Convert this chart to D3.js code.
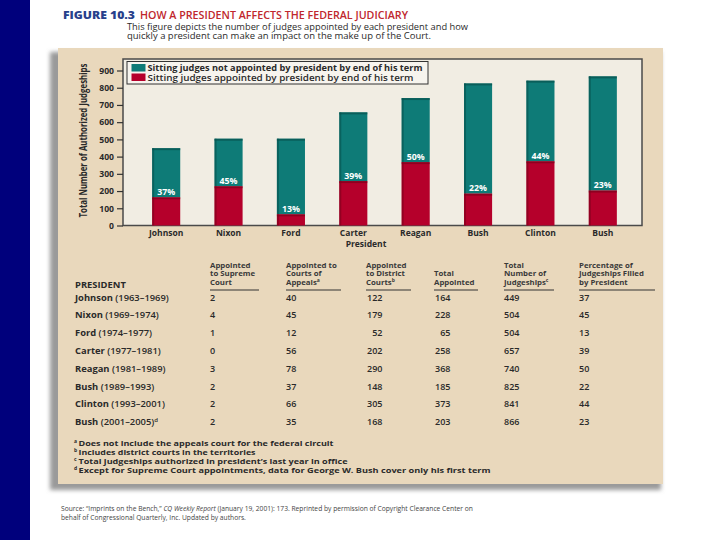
<!DOCTYPE html>
<html>
<head>
<meta charset="utf-8">
<script src="https://cdn.jsdelivr.net/npm/d3@7"></script>
<style>
  body { margin: 0; background: #fff; }
  svg { display: block; font-family: 'Open Sans', 'DejaVu Sans', sans-serif; }
</style>
</head>
<body>
<div id="chart"></div>
<script>
// The Dataset
var presidents = ['Johnson', 'Nixon', 'Ford', 'Carter', 'Reagan', 'Bush', 'Clinton', 'Bush'];
var terms = ['1963–1969', '1969–1974', '1974–1977', '1977–1981', '1981–1989', '1989–1993', '1993–2001', '2001–2005'];
var supremeCourt = [2, 4, 1, 0, 3, 2, 2, 2];
var appealsCourts = [40, 45, 12, 56, 78, 37, 66, 35];
var districtCourts = [122, 179, 52, 202, 290, 148, 305, 168];
var totalAppointed = [164, 228, 65, 258, 368, 185, 373, 203];
var judgeships = [449, 504, 504, 657, 740, 825, 841, 866];
var percentFilled = [37, 45, 13, 39, 50, 22, 44, 23];
var yTicks = [0, 100, 200, 300, 400, 500, 600, 700, 800, 900];

var seriesNames = [
  'Sitting judges not appointed by president by end of his term',
  'Sitting judges appointed by president by end of his term'
];
var columnHeads = [
  ['Appointed', 'to Supreme', 'Court'],
  ['Appointed to', 'Courts of', 'Appeals|a'],
  ['Appointed', 'to District', 'Courts|b'],
  ['', 'Total', 'Appointed'],
  ['Total', 'Number of', 'Judgeships|c'],
  ['Percentage of', 'Judgeships Filled', 'by President']
];
var footnotes = [
  ['a', 'Does not include the appeals court for the federal circuit'],
  ['b', 'Includes district courts in the territories'],
  ['c', 'Total judgeships authorized in president\u2019s last year in office'],
  ['d', 'Except for Supreme Court appointments, data for George W. Bush cover only his first term']
];

// Closure to create a private scope for the charting function.
var judiciaryChart = function () {

  var width = 720,
    height = 540,
    teal = '#0e7b77',
    tealDark = '#07524f',
    red = '#b5002b',
    redDark = '#7d001d',
    ink = '#2a2a2a';

  function chart(selection) {
    selection.each(function () {
      var svg = d3.select(this).append('svg')
        .attr('width', width)
        .attr('height', height);

      var defs = svg.append('defs');
      defs.append('filter').attr('id', 'blur')
        .attr('x', '-5%').attr('y', '-5%').attr('width', '110%').attr('height', '110%')
        .append('feGaussianBlur').attr('stdDeviation', 2.2);

      // Navy strip down the left side of the slide.
      svg.append('rect').attr('width', 30).attr('height', height).attr('fill', '#00007c');

      // Figure heading.
      svg.append('text').attr('x', 63).attr('y', 19)
        .attr('font-size', 10).attr('font-weight', 800).attr('fill', '#27408b')
        .attr('textLength', 72).attr('lengthAdjust', 'spacingAndGlyphs')
        .text('FIGURE 10.3');
      svg.append('text').attr('x', 140).attr('y', 19)
        .attr('font-size', 10).attr('font-weight', 600).attr('fill', '#c0272d')
        .attr('textLength', 268).attr('lengthAdjust', 'spacingAndGlyphs')
        .text('HOW A PRESIDENT AFFECTS THE FEDERAL JUDICIARY');

      // Subtitle, two lines in one block.
      var sub = svg.append('text').attr('font-size', 8.3).attr('fill', ink);
      sub.append('tspan').attr('x', 127).attr('y', 29.5)
        .attr('textLength', 341).attr('lengthAdjust', 'spacingAndGlyphs')
        .text('This figure depicts the number of judges appointed by each president and how');
      sub.append('tspan').attr('x', 127).attr('y', 39)
        .attr('textLength', 304).attr('lengthAdjust', 'spacingAndGlyphs')
        .text('quickly a president can make an impact on the make up of the Court.');

      // Beige panel with a soft shadow to the left and below.
      svg.append('rect').attr('x', 50).attr('y', 52).attr('width', 611).attr('height', 438)
        .attr('fill', '#9a9a9a').attr('filter', 'url(#blur)');
      svg.append('rect').attr('x', 58).attr('y', 48).attr('width', 605).attr('height', 436)
        .attr('fill', '#e9d8bc');

      // Scales.
      var x = d3.scaleBand().domain(d3.range(presidents.length))
        .range([135, 634]).paddingInner(0.55).paddingOuter(0.275);
      var y = d3.scaleLinear().domain([0, 900]).range([225.5, 70.5]);

      // Plot frame.
      svg.append('rect').attr('x', 123).attr('y', 59).attr('width', 519).attr('height', 166.5)
        .attr('fill', '#f1ede3').attr('stroke', '#4a4a4a').attr('stroke-width', 1.5);

      // Y axis.
      var yAxis = svg.append('g').attr('transform', 'translate(123,0)')
        .call(d3.axisLeft(y).tickValues(yTicks).tickSize(6).tickPadding(3));
      yAxis.select('.domain').remove();
      yAxis.selectAll('line').attr('stroke', '#333').attr('stroke-width', 1.2);
      yAxis.selectAll('text').attr('font-size', 8.6).attr('font-weight', 700)
        .attr('font-family', 'Open Sans, sans-serif').attr('fill', ink);

      svg.append('text')
        .attr('transform', 'translate(87,140.5) rotate(-90)')
        .attr('text-anchor', 'middle')
        .attr('font-size', 10).attr('font-weight', 700).attr('fill', ink)
        .attr('textLength', 154).attr('lengthAdjust', 'spacingAndGlyphs')
        .text('Total Number of Authorized Judgeships');

      // X axis.
      var xAxis = svg.append('g').attr('transform', 'translate(0,225.5)')
        .call(d3.axisBottom(x).tickSize(0).tickPadding(4).tickFormat(function (i) { return presidents[i]; }));
      xAxis.select('.domain').remove();
      xAxis.selectAll('text').attr('font-size', 8.5).attr('font-weight', 700)
        .attr('font-family', 'Open Sans, sans-serif').attr('fill', ink);

      svg.append('text').attr('x', 366).attr('y', 247)
        .attr('text-anchor', 'middle').attr('font-size', 8.5).attr('font-weight', 700).attr('fill', ink)
        .text('President');

      // Stacked bars: appointed judges at the bottom, the rest of the seats on top.
      var bars = svg.append('g').selectAll('g.bar')
        .data(d3.range(presidents.length))
        .enter()
        .append('g')
        .attr('class', 'bar');

      bars.append('rect')
        .attr('x', function (i) { return x(i); })
        .attr('y', function (i) { return y(judgeships[i]); })
        .attr('width', x.bandwidth())
        .attr('height', function (i) { return y(totalAppointed[i]) - y(judgeships[i]); })
        .attr('fill', teal);
      bars.append('rect')
        .attr('x', function (i) { return x(i); })
        .attr('y', function (i) { return y(totalAppointed[i]); })
        .attr('width', x.bandwidth())
        .attr('height', function (i) { return y(0) - y(totalAppointed[i]); })
        .attr('fill', red);

      // Darker edges give the bars their slight depth.
      bars.append('rect')
        .attr('x', function (i) { return x(i); })
        .attr('y', function (i) { return y(judgeships[i]); })
        .attr('width', 2)
        .attr('height', function (i) { return y(totalAppointed[i]) - y(judgeships[i]); })
        .attr('fill', tealDark).attr('opacity', 0.6);
      bars.append('rect')
        .attr('x', function (i) { return x(i); })
        .attr('y', function (i) { return y(totalAppointed[i]); })
        .attr('width', 2)
        .attr('height', function (i) { return y(0) - y(totalAppointed[i]); })
        .attr('fill', redDark).attr('opacity', 0.6);
      bars.append('rect')
        .attr('x', function (i) { return x(i); })
        .attr('y', function (i) { return y(judgeships[i]); })
        .attr('width', x.bandwidth())
        .attr('height', 2)
        .attr('fill', tealDark).attr('opacity', 0.7);
      bars.append('rect')
        .attr('x', function (i) { return x(i); })
        .attr('y', function (i) { return y(totalAppointed[i]); })
        .attr('width', x.bandwidth())
        .attr('height', 2)
        .attr('fill', redDark).attr('opacity', 0.7);

      bars.append('text')
        .attr('x', function (i) { return x(i) + x.bandwidth() / 2; })
        .attr('y', function (i) { return y(totalAppointed[i]) - 2.5; })
        .attr('text-anchor', 'middle')
        .attr('font-size', 8.8).attr('font-weight', 700).attr('fill', '#ffffff')
        .text(function (i) { return percentFilled[i] + '%'; });

      // Legend.
      var legend = svg.append('g');
      legend.append('rect').attr('x', 127).attr('y', 61.5).attr('width', 301).attr('height', 22.5)
        .attr('fill', '#f7f4ee').attr('stroke', '#333').attr('stroke-width', 1);
      var items = legend.selectAll('g.item')
        .data(seriesNames)
        .enter()
        .append('g')
        .attr('class', 'item')
        .attr('transform', function (d, i) { return 'translate(0,' + (i * 9.5) + ')'; });
      items.append('rect').attr('x', 131.5).attr('y', 64).attr('width', 14).attr('height', 7.5)
        .attr('fill', function (d, i) { return i === 0 ? teal : red; });
      items.append('text').attr('x', 147.5).attr('y', 71)
        .attr('font-size', 8).attr('font-weight', function (d, i) { return i === 0 ? 700 : 600; })
        .attr('fill', ink)
        .attr('textLength', function (d, i) { return i === 0 ? 275 : 266; })
        .attr('lengthAdjust', 'spacingAndGlyphs')
        .text(function (d) { return d; });

      // Table beneath the chart.
      var colX = [210, 286, 366, 434, 504, 579],
        colW = [49, 55, 45, 44, 50, 76];

      var table = svg.append('g').attr('fill', ink);
      table.append('text').attr('x', 75).attr('y', 287.5)
        .attr('font-size', 9.4).attr('font-weight', 700)
        .text('PRESIDENT');

      // Each column heading is one text block, one tspan per line.
      columnHeads.forEach(function (lines, c) {
        var t = table.append('text').attr('x', colX[c]).attr('y', 267.5)
          .attr('font-size', 7.8).attr('font-weight', 700).attr('fill', '#3a3a3a');
        lines.forEach(function (line, l) {
          var parts = line.split('|');
          t.append('tspan').attr('x', colX[c]).attr('y', 267.5 + l * 8.5).text(parts[0] || '\u00a0');
          if (parts[1]) {
            t.append('tspan').attr('dy', -2.5).attr('font-size', 5).text(parts[1]);
          }
        });
        table.append('line')
          .attr('x1', colX[c]).attr('x2', colX[c] + colW[c])
          .attr('y1', 290).attr('y2', 290)
          .attr('stroke', '#333').attr('stroke-width', 1);
      });

      var columns = [supremeCourt, appealsCourts, districtCourts, totalAppointed, judgeships, percentFilled];
      var rows = table.selectAll('g.row')
        .data(d3.range(presidents.length))
        .enter()
        .append('g')
        .attr('class', 'row')
        .attr('transform', function (i) { return 'translate(0,' + (300.5 + i * 17.8) + ')'; });

      var names = rows.append('text').attr('x', 75).attr('font-size', 9.4);
      names.append('tspan').attr('font-weight', 700).text(function (i) { return presidents[i]; });
      names.append('tspan').attr('font-weight', 600).text(function (i) { return ' (' + terms[i] + ')'; });
      names.filter(function (i) { return i === presidents.length - 1; })
        .append('tspan').attr('dy', -3).attr('font-size', 6).attr('font-weight', 600).text('d');

      columns.forEach(function (values, c) {
        var rightAlign = c === 2 || c === 3;
        rows.append('text')
          .attr('x', rightAlign ? colX[c] + 16.5 : colX[c])
          .attr('text-anchor', rightAlign ? 'end' : 'start')
          .attr('font-size', 9).attr('font-weight', 600)
          .text(function (i) { return values[i]; });
      });

      // Footnotes, set as one block of lines.
      var noteLengths = [255, 177, 269, 412];
      var notes = svg.append('text').attr('x', 74).attr('y', 446)
        .attr('font-size', 7.8).attr('font-weight', 700).attr('fill', ink);
      footnotes.forEach(function (note, i) {
        notes.append('tspan').attr('x', 74).attr('y', 443 + i * 9)
          .attr('font-size', 5).text(note[0]);
        notes.append('tspan').attr('x', 78.5).attr('y', 446 + i * 9)
          .attr('textLength', noteLengths[i]).attr('lengthAdjust', 'spacingAndGlyphs')
          .text(note[1]);
      });

      // Source line below the panel.
      var src = svg.append('text').attr('x', 61).attr('y', 511)
        .attr('font-size', 6.7).attr('fill', '#444');
      src.append('tspan').text('Source: \u201cImprints on the Bench,\u201d ');
      src.append('tspan').attr('font-style', 'italic').text('CQ Weekly Report');
      src.append('tspan').text(' (January 19, 2001): 173. Reprinted by permission of Copyright Clearance Center on');
      src.append('tspan').attr('x', 61).attr('y', 519.5)
        .text('behalf of Congressional Quarterly, Inc. Updated by authors.');
    });
  }

  // Width
  chart.width = function (value) {
    if (!arguments.length) {
      return width;
    }
    width = value;
    return chart;
  };

  // Height
  chart.height = function (value) {
    if (!arguments.length) {
      return height;
    }
    height = value;
    return chart;
  };

  return chart;
};

d3.select('#chart').call(judiciaryChart());
</script>
</body>
</html>
